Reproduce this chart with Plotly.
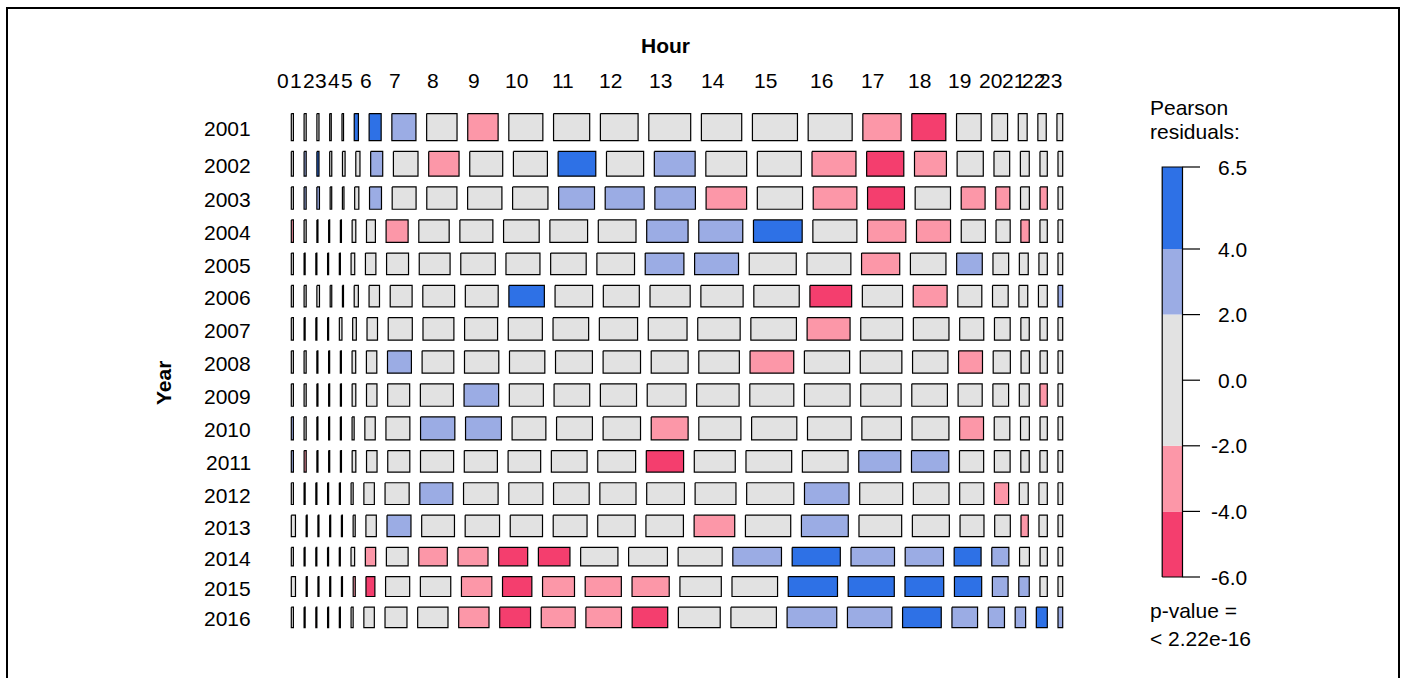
import plotly.graph_objects as go

# ---- data -------------------------------------------------------------
years = [str(y) for y in range(2001, 2017)]
hours = [str(h) for h in range(24)]

# records per year
year_total = [5437, 4982, 4496, 4507, 4338, 4321, 4519, 4476,
              4503, 4597, 4318, 4362, 4324, 3702, 4006, 4118]

# share of each hour within its year (per mille)
hour_share = [
    [4, 4, 4, 3, 3, 8, 23, 46, 58, 58, 65, 69, 72, 80, 77, 86, 84, 73, 65, 47, 30, 17, 16, 11],  # 2001
    [4, 4, 4, 4, 5, 8, 23, 47, 58, 63, 65, 72, 71, 78, 78, 84, 84, 71, 61, 50, 30, 17, 14, 9],   # 2002
    [4, 4, 5, 3, 3, 8, 23, 46, 58, 66, 68, 69, 75, 78, 78, 87, 84, 71, 68, 46, 27, 17, 14, 9],   # 2003
    [4, 4, 2, 2, 2, 7, 17, 42, 58, 63, 68, 72, 72, 79, 84, 93, 84, 73, 65, 46, 27, 16, 14, 9],   # 2004
    [4, 2, 2, 2, 2, 7, 20, 42, 59, 66, 65, 68, 72, 74, 84, 90, 84, 73, 68, 49, 30, 17, 16, 9],   # 2005
    [4, 4, 5, 3, 2, 8, 20, 42, 61, 63, 68, 72, 69, 77, 81, 87, 80, 77, 65, 46, 30, 17, 17, 9],   # 2006
    [4, 2, 2, 2, 5, 7, 20, 46, 59, 63, 65, 68, 73, 74, 81, 87, 82, 80, 68, 46, 30, 16, 14, 9],   # 2007
    [4, 4, 2, 2, 2, 7, 20, 46, 61, 66, 68, 71, 72, 71, 78, 84, 87, 80, 68, 46, 33, 16, 14, 9],   # 2008
    [4, 4, 2, 2, 2, 7, 20, 42, 63, 66, 65, 68, 69, 74, 81, 84, 87, 77, 68, 46, 30, 19, 14, 9],   # 2009
    [4, 4, 2, 2, 2, 4, 20, 46, 66, 69, 65, 69, 72, 71, 81, 87, 84, 76, 71, 46, 30, 17, 14, 9],   # 2010
    [4, 4, 2, 2, 2, 7, 20, 42, 63, 63, 62, 68, 72, 71, 78, 87, 87, 80, 71, 46, 30, 16, 14, 9],   # 2011
    [4, 2, 2, 2, 2, 4, 20, 46, 63, 66, 65, 68, 69, 72, 78, 90, 85, 82, 68, 46, 27, 17, 16, 9],   # 2012
    [8, 2, 2, 2, 2, 4, 20, 46, 63, 66, 62, 65, 72, 72, 78, 87, 90, 82, 71, 46, 30, 14, 16, 9],   # 2013
    [4, 2, 2, 2, 2, 7, 20, 42, 55, 58, 56, 61, 72, 75, 85, 94, 93, 84, 74, 52, 33, 19, 14, 9],   # 2014
    [8, 2, 2, 2, 2, 4, 17, 46, 58, 58, 56, 61, 69, 71, 79, 87, 94, 88, 74, 52, 30, 20, 14, 9],   # 2015
    [4, 2, 2, 2, 2, 4, 20, 42, 58, 58, 59, 65, 68, 68, 80, 87, 95, 85, 74, 49, 31, 20, 21, 9],   # 2016
]

# Pearson residual band of each cell:
# -2: r < -4, -1: -4 <= r < -2, 0: |r| < 2, 1: 2 <= r < 4, 2: r >= 4
resid_band = [
    [0, 0, 0, 0, 0, 2, 2, 1, 0, -1, 0, 0, 0, 0, 0, 0, 0, -1, -2, 0, 0, 0, 0, 0],     # 2001
    [0, 1, 2, 0, 0, 0, 1, 0, -1, 0, 0, 2, 0, 1, 0, 0, -1, -2, -1, 0, 0, 0, 0, 0],    # 2002
    [0, 1, 1, 0, 0, 0, 1, 0, 0, 0, 0, 1, 1, 1, -1, 0, -1, -2, 0, -1, -1, 0, -1, 0],  # 2003
    [-1, 0, 0, 0, 0, 0, 0, -1, 0, 0, 0, 0, 0, 1, 1, 2, 0, -1, -1, 0, 0, -1, 0, 0],   # 2004
    [0, 0, 0, 0, 0, 0, 0, 0, 0, 0, 0, 0, 0, 1, 1, 0, 0, -1, 0, 1, 0, 0, 0, 0],       # 2005
    [0, 0, 0, 0, 1, 0, 0, 0, 0, 0, 2, 0, 0, 0, 0, 0, -2, 0, -1, 0, 0, 0, 0, 1],      # 2006
    [0, 0, 0, 0, 0, 0, 0, 0, 0, 0, 0, 0, 0, 0, 0, 0, -1, 0, 0, 0, 0, 0, 0, 0],       # 2007
    [0, 0, 0, 0, 0, 0, 0, 1, 0, 0, 0, 0, 0, 0, 0, -1, 0, 0, 0, -1, 0, 0, 0, 0],      # 2008
    [0, 0, -1, 0, 0, 0, 0, 0, 0, 1, 0, 0, 0, 0, 0, 0, 0, 0, 0, 0, 0, 0, -1, 0],      # 2009
    [1, 0, 0, 0, 0, 0, 0, 0, 1, 1, 0, 0, 0, -1, 0, 0, 0, 0, 0, -1, 0, 0, 0, 0],      # 2010
    [1, -1, 0, 0, 0, 0, 0, 0, 0, 0, 0, 0, 0, -2, 0, 0, 0, 1, 1, 0, 0, 0, 0, 0],      # 2011
    [0, 0, 0, 0, 0, 0, 0, 0, 1, 0, 0, 0, 0, 0, 0, 0, 1, 0, 0, 0, -1, 0, 0, 0],       # 2012
    [0, 0, 0, 0, 0, 0, 0, 1, 0, 0, 0, 0, 0, 0, -1, 0, 1, 0, 0, 0, 0, -1, 0, 0],      # 2013
    [0, 0, 0, 0, -1, 0, -1, 0, -1, -1, -2, -2, 0, 0, 0, 1, 2, 1, 1, 2, 1, 0, 0, 0],  # 2014
    [0, -1, 0, 0, -1, -1, -2, 0, 0, -1, -2, -1, -1, -1, 0, 0, 2, 2, 2, 2, 1, 1, 0, 0],  # 2015
    [0, 0, -1, 0, 0, 0, 0, 0, 0, -1, -2, -1, -1, -2, 0, 0, 1, 1, 2, 1, 1, 1, 2, 1],  # 2016
]

legend_breaks = [-6.0, -4.0, -2.0, 2.0, 4.0, 6.5]
legend_ticks = [-6.0, -4.0, -2.0, 0.0, 2.0, 4.0, 6.5]

# ---- style ------------------------------------------------------------
band_colors = {-2: "#F43E6E", -1: "#FC97A8", 0: "#E2E2E2", 1: "#9BACE4", 2: "#2E71E6"}
FONT = "Liberation Sans, Arial, sans-serif"
FS = 21
W, H = 1407, 678

# mosaic frame (page pixel coordinates on the hidden axes)
X_L, X_R = 291.3, 1062.7
Y_T, Y_B = 113.6, 627.7
GAP = 10.7
LW = 1.2

fig = go.Figure()

n_rows, n_cols = len(years), len(hours)
avail_h = (Y_B - Y_T) - (n_rows - 1) * GAP
avail_w = (X_R - X_L) - (n_cols - 1) * GAP
grand = sum(year_total)

polys = {b: ([], []) for b in band_colors}
row_centers = []
first_row_centers = []
y = Y_T
for i, yr in enumerate(years):
    h = year_total[i] / grand * avail_h
    row_centers.append(y + h / 2)
    s = sum(hour_share[i])
    x = X_L
    for j in range(n_cols):
        w = hour_share[i][j] / s * avail_w
        b = resid_band[i][j]
        xs, ys = polys[b]
        xs += [x, x + w, x + w, x, x, None]
        ys += [y, y, y + h, y + h, y, None]
        if i == 0:
            first_row_centers.append(x + w / 2)
        x += w + GAP
    y += h + GAP

for b, (xs, ys) in polys.items():
    fig.add_trace(go.Scatter(
        x=xs, y=ys, mode="lines", fill="toself", fillcolor=band_colors[b],
        line=dict(color="#000000", width=LW), hoverinfo="skip", showlegend=False))

annotations = []
# hour labels along the top
for j, lab in enumerate(hours):
    annotations.append(dict(x=first_row_centers[j] - 9, y=80, text=lab,
                            showarrow=False, xanchor="center", yanchor="middle",
                            font=dict(size=FS, family=FONT, color="#000")))
# year labels on the left
for i, lab in enumerate(years):
    annotations.append(dict(x=253, y=row_centers[i] + 1.5, text=lab,
                            showarrow=False, xanchor="right", yanchor="middle",
                            font=dict(size=FS, family=FONT, color="#000")))
annotations.append(dict(x=665, y=45, text="<b>Hour</b>", showarrow=False,
                        xanchor="center", yanchor="middle",
                        font=dict(size=FS, family=FONT, color="#000")))
annotations.append(dict(x=163, y=383, text="<b>Year</b>", showarrow=False, textangle=-90,
                        xanchor="center", yanchor="middle",
                        font=dict(size=FS, family=FONT, color="#000")))

# ---- residual legend --------------------------------------------------
LX0, LX1 = 1162.2, 1182.5
LY_TOP, LY_BOT = 167.0, 577.0
vmin, vmax = legend_breaks[0], legend_breaks[-1]


def ly(v):
    return LY_BOT - (v - vmin) / (vmax - vmin) * (LY_BOT - LY_TOP)


legend_bands = [-2, -1, 0, 1, 2]
for k, b in enumerate(legend_bands):
    lo, hi = legend_breaks[k], legend_breaks[k + 1]
    fig.add_trace(go.Scatter(
        x=[LX0, LX1, LX1, LX0, LX0], y=[ly(lo), ly(lo), ly(hi), ly(hi), ly(lo)],
        mode="lines", fill="toself", fillcolor=band_colors[b],
        line=dict(width=0), hoverinfo="skip", showlegend=False))
fig.add_trace(go.Scatter(
    x=[LX0, LX1, LX1, LX0, LX0], y=[ly(vmin), ly(vmin), ly(vmax), ly(vmax), ly(vmin)],
    mode="lines", line=dict(color="#000", width=LW), hoverinfo="skip", showlegend=False))
tx, ty = [], []
for v in legend_ticks:
    tx += [LX1, 1200, None]
    ty += [ly(v), ly(v), None]
    annotations.append(dict(x=1249, y=ly(v), text=f"{v:.1f}", showarrow=False,
                            xanchor="right", yanchor="middle",
                            font=dict(size=FS, family=FONT, color="#000")))
fig.add_trace(go.Scatter(x=tx, y=ty, mode="lines", line=dict(color="#000", width=LW),
                         hoverinfo="skip", showlegend=False))

for txt, yy in [("Pearson", 107), ("residuals:", 131), ("p-value =", 610), ("&lt; 2.22e-16", 638)]:
    annotations.append(dict(x=1148, y=yy, text=txt, showarrow=False,
                            xanchor="left", yanchor="middle",
                            font=dict(size=FS, family=FONT, color="#000")))

fig.update_layout(
    width=W, height=H, margin=dict(l=0, r=0, t=0, b=0),
    paper_bgcolor="white", plot_bgcolor="white",
    xaxis=dict(range=[0, W], visible=False, fixedrange=True),
    yaxis=dict(range=[H, 0], visible=False, fixedrange=True),
    annotations=annotations,
    shapes=[dict(type="rect", xref="x", yref="y", x0=7, y0=8, x1=1399, y1=H + 20,
                 line=dict(color="#000", width=2), fillcolor="rgba(0,0,0,0)", layer="above")],
)

fig.write_html("out.html")
